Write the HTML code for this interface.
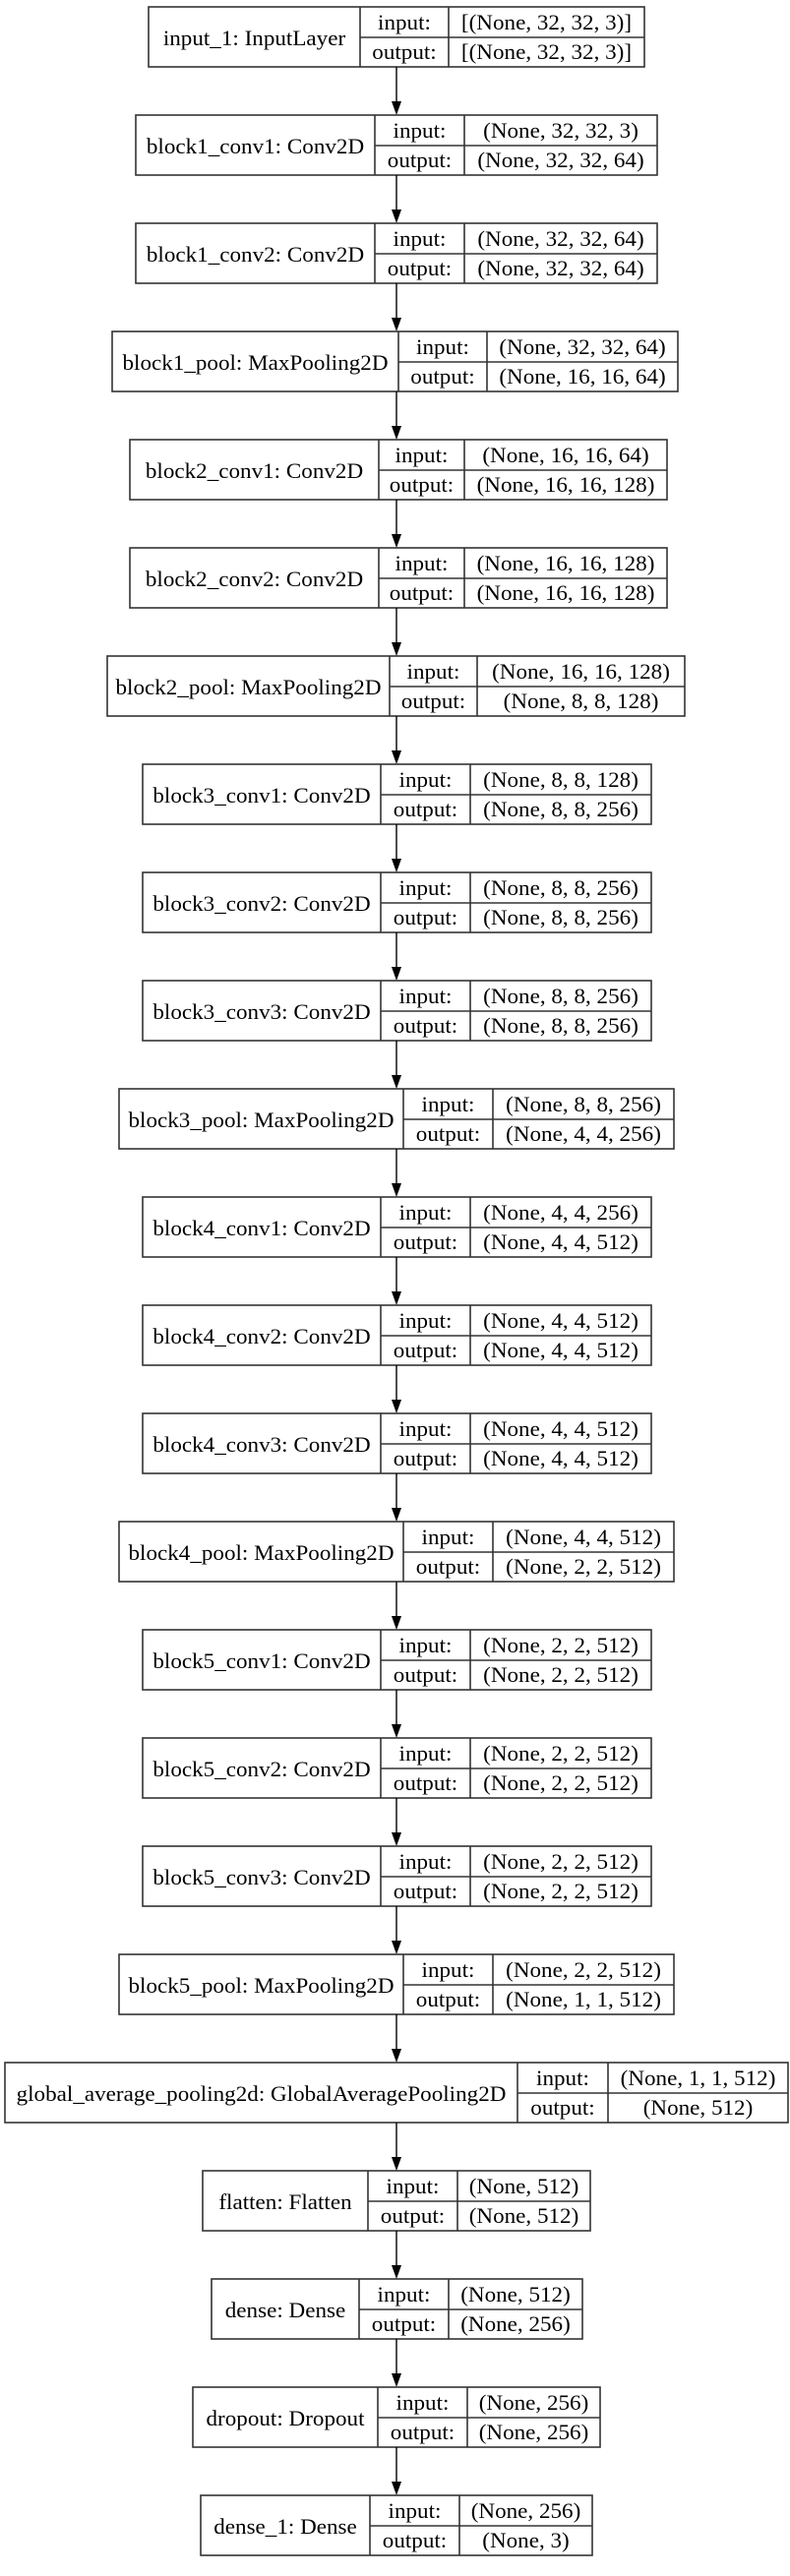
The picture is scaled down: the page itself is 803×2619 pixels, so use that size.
<!DOCTYPE html>
<html><head><meta charset="utf-8"><style>
html,body{margin:0;padding:0;background:#fff;}
svg{display:block;}
text{font-family:"Liberation Serif",serif;font-size:22px;fill:#000;}
</style></head><body>
<svg width="803" height="2619" viewBox="0 0 803 2619" xmlns="http://www.w3.org/2000/svg">
<defs>
<g id="ar"><line x1="403" y1="0" x2="403" y2="37" stroke="#000" stroke-width="1.4"/><polygon points="398,35 408,35 403,49" fill="#000"/></g>
</defs>
<g id="nodes" stroke="#333" stroke-width="1.6" fill="none"></g>
</svg>
<script>
var N=[
["input_1: InputLayer","[(None, 32, 32, 3)]","[(None, 32, 32, 3)]",151,366,456,655],
["block1_conv1: Conv2D","(None, 32, 32, 3)","(None, 32, 32, 64)",138,381,472,668],
["block1_conv2: Conv2D","(None, 32, 32, 64)","(None, 32, 32, 64)",138,381,472,668],
["block1_pool: MaxPooling2D","(None, 32, 32, 64)","(None, 16, 16, 64)",114,405,495,689],
["block2_conv1: Conv2D","(None, 16, 16, 64)","(None, 16, 16, 128)",132,385,472,678],
["block2_conv2: Conv2D","(None, 16, 16, 128)","(None, 16, 16, 128)",132,385,472,678],
["block2_pool: MaxPooling2D","(None, 16, 16, 128)","(None, 8, 8, 128)",109,396,485,696],
["block3_conv1: Conv2D","(None, 8, 8, 128)","(None, 8, 8, 256)",145,387,478,662],
["block3_conv2: Conv2D","(None, 8, 8, 256)","(None, 8, 8, 256)",145,387,478,662],
["block3_conv3: Conv2D","(None, 8, 8, 256)","(None, 8, 8, 256)",145,387,478,662],
["block3_pool: MaxPooling2D","(None, 8, 8, 256)","(None, 4, 4, 256)",121,410,501,685],
["block4_conv1: Conv2D","(None, 4, 4, 256)","(None, 4, 4, 512)",145,387,478,662],
["block4_conv2: Conv2D","(None, 4, 4, 512)","(None, 4, 4, 512)",145,387,478,662],
["block4_conv3: Conv2D","(None, 4, 4, 512)","(None, 4, 4, 512)",145,387,478,662],
["block4_pool: MaxPooling2D","(None, 4, 4, 512)","(None, 2, 2, 512)",121,410,501,685],
["block5_conv1: Conv2D","(None, 2, 2, 512)","(None, 2, 2, 512)",145,387,478,662],
["block5_conv2: Conv2D","(None, 2, 2, 512)","(None, 2, 2, 512)",145,387,478,662],
["block5_conv3: Conv2D","(None, 2, 2, 512)","(None, 2, 2, 512)",145,387,478,662],
["block5_pool: MaxPooling2D","(None, 2, 2, 512)","(None, 1, 1, 512)",121,410,501,685],
["global_average_pooling2d: GlobalAveragePooling2D","(None, 1, 1, 512)","(None, 512)",5,526,618,801],
["flatten: Flatten","(None, 512)","(None, 512)",206,374,465,600],
["dense: Dense","(None, 512)","(None, 256)",215,365,456,592],
["dropout: Dropout","(None, 256)","(None, 256)",196,384,475,610],
["dense_1: Dense","(None, 256)","(None, 3)",204,376,467,602]];
var s='';
function t(x,y,str){return '<text stroke="none" text-anchor="middle" transform="translate('+x+','+y+') scale(1.05,1)">'+str+'</text>';}
for(var i=0;i<N.length;i++){
 var n=N[i],y=7+i*110,L=n[3],a=n[4],b=n[5],R=n[6];
 s+='<rect x="'+L+'" y="'+y+'" width="'+(R-L)+'" height="61"/>';
 s+='<line x1="'+a+'" y1="'+y+'" x2="'+a+'" y2="'+(y+61)+'"/>';
 s+='<line x1="'+b+'" y1="'+y+'" x2="'+b+'" y2="'+(y+61)+'"/>';
 s+='<line x1="'+a+'" y1="'+(y+31)+'" x2="'+R+'" y2="'+(y+31)+'"/>';
 s+=t((L+a)/2,y+39,n[0])+t((a+b)/2,y+23,'input:')+t((a+b)/2,y+53,'output:')+t((b+R)/2,y+23,n[1])+t((b+R)/2,y+53,n[2]);
 if(i<N.length-1) s+='<use href="#ar" y="'+(y+61)+'" stroke="none"/>';
}
document.getElementById('nodes').innerHTML=s;
</script>
</body></html>
